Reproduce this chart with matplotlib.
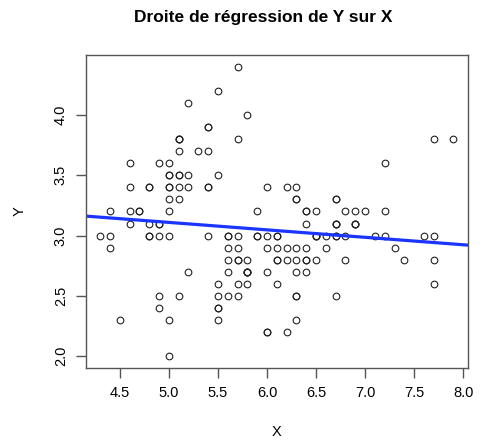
import numpy as np
import matplotlib
matplotlib.use('Agg')
import matplotlib.pyplot as plt

plt.rcParams['font.family'] = ['Liberation Sans', 'DejaVu Sans']

# Sepal length (X) and sepal width (Y)
x_vals = [5.1, 4.9, 4.7, 4.6, 5.0, 5.4, 4.6, 5.0, 4.4, 4.9,
          5.4, 4.8, 4.8, 4.3, 5.8, 5.7, 5.4, 5.1, 5.7, 5.1,
          5.4, 5.1, 4.6, 5.1, 4.8, 5.0, 5.0, 5.2, 5.2, 4.7,
          4.8, 5.4, 5.2, 5.5, 4.9, 5.0, 5.5, 4.9, 4.4, 5.1,
          5.0, 4.5, 4.4, 5.0, 5.1, 4.8, 5.1, 4.6, 5.3, 5.0,
          7.0, 6.4, 6.9, 5.5, 6.5, 5.7, 6.3, 4.9, 6.6, 5.2,
          5.0, 5.9, 6.0, 6.1, 5.6, 6.7, 5.6, 5.8, 6.2, 5.6,
          5.9, 6.1, 6.3, 6.1, 6.4, 6.6, 6.8, 6.7, 6.0, 5.7,
          5.5, 5.5, 5.8, 6.0, 5.4, 6.0, 6.7, 6.3, 5.6, 5.5,
          5.5, 6.1, 5.8, 5.0, 5.6, 5.7, 5.7, 6.2, 5.1, 5.7,
          6.3, 5.8, 7.1, 6.3, 6.5, 7.6, 4.9, 7.3, 6.7, 7.2,
          6.5, 6.4, 6.8, 5.7, 5.8, 6.4, 6.5, 7.7, 7.7, 6.0,
          6.9, 5.6, 7.7, 6.3, 6.7, 7.2, 6.2, 6.1, 6.4, 7.2,
          7.4, 7.9, 6.4, 6.3, 6.1, 7.7, 6.3, 6.4, 6.0, 6.9,
          6.7, 6.9, 5.8, 6.8, 6.7, 6.7, 6.3, 6.5, 6.2, 5.9]
y_vals = [3.5, 3.0, 3.2, 3.1, 3.6, 3.9, 3.4, 3.4, 2.9, 3.1,
          3.7, 3.4, 3.0, 3.0, 4.0, 4.4, 3.9, 3.5, 3.8, 3.8,
          3.4, 3.7, 3.6, 3.3, 3.4, 3.0, 3.4, 3.5, 3.4, 3.2,
          3.1, 3.4, 4.1, 4.2, 3.1, 3.2, 3.5, 3.6, 3.0, 3.4,
          3.5, 2.3, 3.2, 3.5, 3.8, 3.0, 3.8, 3.2, 3.7, 3.3,
          3.2, 3.2, 3.1, 2.3, 2.8, 2.8, 3.3, 2.4, 2.9, 2.7,
          2.0, 3.0, 2.2, 2.9, 2.9, 3.1, 3.0, 2.7, 2.2, 2.5,
          3.2, 2.8, 2.5, 2.8, 2.9, 3.0, 2.8, 3.0, 2.9, 2.6,
          2.4, 2.4, 2.7, 2.7, 3.0, 3.4, 3.1, 2.3, 3.0, 2.5,
          2.6, 3.0, 2.6, 2.3, 2.7, 3.0, 2.9, 2.9, 2.5, 2.8,
          3.3, 2.7, 3.0, 2.9, 3.0, 3.0, 2.5, 2.9, 2.5, 3.6,
          3.2, 2.7, 3.0, 2.5, 2.8, 3.2, 3.0, 3.8, 2.6, 2.2,
          3.2, 2.8, 2.8, 2.7, 3.3, 3.2, 2.8, 3.0, 2.8, 3.0,
          2.8, 3.8, 2.8, 2.8, 2.6, 3.0, 3.4, 3.1, 3.0, 3.1,
          3.1, 3.1, 2.7, 3.2, 3.3, 3.0, 2.5, 3.0, 3.4, 3.0]

x_ticks = [4.5, 5.0, 5.5, 6.0, 6.5, 7.0, 7.5, 8.0]
y_ticks = [2.0, 2.5, 3.0, 3.5, 4.0]

x = np.array(x_vals)
y = np.array(y_vals)
slope, intercept = np.polyfit(x, y, 1)

fig = plt.figure(figsize=(4.83, 4.46), dpi=100)
ax = fig.add_axes([0.178, 0.1756, 0.79, 0.7004])

ax.plot(x, y, linestyle='none', marker='o', markersize=4.8,
        markerfacecolor='none', markeredgecolor='#222222', markeredgewidth=0.8)

# R style axis range: data range extended by 4%
xr = x.max() - x.min()
yr = y.max() - y.min()
ax.set_xlim(x.min() - 0.04 * xr, x.max() + 0.04 * xr)
ax.set_ylim(y.min() - 0.04 * yr, y.max() + 0.04 * yr)

ax.axline((0, intercept), slope=slope, color='#1a35ff', linewidth=2.3)

ax.set_xticks(x_ticks)
ax.set_xticklabels(['%.1f' % v for v in x_ticks])
ax.set_yticks(y_ticks)
ax.set_yticklabels(['%.1f' % v for v in y_ticks], rotation=90, va='center')

for s in ax.spines.values():
    s.set_color('#555555')
    s.set_linewidth(1.0)
ax.tick_params(direction='out', length=7, width=1.0, color='#555555',
               labelsize=10.5, pad=6)

ax.set_xlabel('X', fontsize=10.5, labelpad=18)
ax.set_ylabel('Y', fontsize=10.5, labelpad=20)
fig.text(263.5 / 483, 1 - 17.5 / 446, 'Droite de régression de Y sur X',
         fontsize=12.5, fontweight='bold', ha='center', va='center')

fig.savefig('out.png', dpi=100)
